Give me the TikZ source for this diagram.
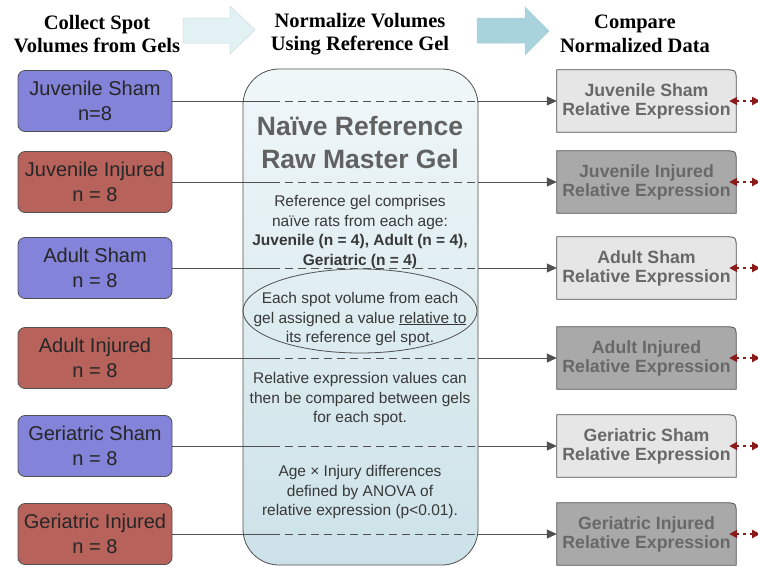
\documentclass[tikz,border=0pt]{standalone}
\usepackage{fontspec}
\setmainfont{Liberation Sans}
\newfontfamily\hdrfont{Liberation Serif}
\usetikzlibrary{arrows.meta,shapes.geometric,calc}
\definecolor{shamblue}{HTML}{8383D9}
\definecolor{injred}{HTML}{B8625C}
\definecolor{edgegray}{HTML}{505050}
\definecolor{lightrel}{HTML}{E6E6E6}
\definecolor{darkrel}{HTML}{A9A9A9}
\definecolor{reltext}{HTML}{686868}
\definecolor{darkred}{HTML}{8B1A1A}
\definecolor{arrowA}{HTML}{E2F1F3}
\definecolor{arrowB}{HTML}{A9D3DC}
\definecolor{geltop}{HTML}{F0F7F9}
\definecolor{gelbot}{HTML}{CCE2E8}
\tikzset{
  hdr/.style={align=center, font=\hdrfont\bfseries\fontsize{20.5}{23.5}\selectfont},
  lbox/.style={draw=edgegray, line width=0.8pt, rounded corners=7pt, minimum width=154pt, minimum height=61pt, align=center, inner sep=0pt, text=black!85, font=\fontsize{20}{25}\selectfont},
  rtext/.style={minimum width=179pt, minimum height=62pt, align=center, inner sep=0pt, text=reltext, font=\bfseries\fontsize{17.7}{19}\selectfont},
  gtext/.style={align=center, text=black!78, font=\fontsize{15.5}{19.5}\selectfont},
  conn/.style={draw=edgegray, line width=0.8pt},
  dconn/.style={conn, dash pattern=on 8pt off 5pt},
  aconn/.style={conn, -{Triangle[length=10pt,width=9pt]}, shorten >=0pt},
  redarr/.style={draw=darkred, line width=1.8pt, dash pattern=on 2.5pt off 4pt, {Triangle[length=8pt,width=8pt]}-{Triangle[length=8pt,width=8pt]}},
  blockarrow/.style={line width=0.5pt}
}
\newcommand\relbox[4]{%
  \node[rtext] (#1) at (646.5,#2) {};
  \filldraw[fill=#3, draw=edgegray, line width=0.8pt]
    (#1.south west) -- (#1.north west) -- ([xshift=-11pt]#1.north east)
    .. controls (#1.north east) .. ([yshift=-11pt]#1.north east) -- (#1.south east) -- cycle;
  \node[rtext] at (#1.center) {#4};
}
\begin{document}
\begin{tikzpicture}[x=1pt,y=-1pt]
\useasboundingbox (0,0) rectangle (758,566);
\fill[white] (0,0) rectangle (758,566);

% headers
\node[hdr] (h1) at (97,34) {Collect Spot\\Volumes from Gels};
\node[hdr] (h2) at (360,34) {Normalize Volumes\\Using Reference Gel};
\node[hdr] (h3) at (635,34) {Compare\\Normalized Data};

% block arrows
\filldraw[blockarrow, fill=arrowA, draw=arrowA!85!black!60!arrowA]
  (183,18) -- (230,18) -- (230,6) -- (255,30) -- (230,54) -- (230,43) -- (183,43) -- cycle;
\filldraw[blockarrow, fill=arrowB, draw=arrowB]
  (477,18) -- (525,18) -- (525,7) -- (549,31) -- (525,55) -- (525,43) -- (477,43) -- cycle;

% reference gel
\node[draw=edgegray, line width=0.8pt, rounded corners=36pt, minimum width=235pt, minimum height=496pt,
      top color=geltop, bottom color=gelbot, inner sep=0pt] (gel) at (360.5,317) {};

\coordinate (dA) at (272,0);
\coordinate (dB) at (478,0);

% left boxes
\node[lbox, fill=shamblue] (l1) at (95,101) {Juvenile Sham\\n=8};
\node[lbox, fill=injred]   (l2) at (95,182) {Juvenile Injured\\n = 8};
\node[lbox, fill=shamblue] (l3) at (95,268) {Adult Sham\\n = 8};
\node[lbox, fill=injred]   (l4) at (95,358) {Adult Injured\\n = 8};
\node[lbox, fill=shamblue] (l5) at (95,446) {Geriatric Sham\\n = 8};
\node[lbox, fill=injred]   (l6) at (95,534) {Geriatric Injured\\n = 8};

% right boxes
\relbox{r1}{101}{lightrel}{Juvenile Sham\\Relative Expression}
\relbox{r2}{182}{darkrel}{Juvenile Injured\\Relative Expression}
\relbox{r3}{268}{lightrel}{Adult Sham\\Relative Expression}
\relbox{r4}{358}{darkrel}{Adult Injured\\Relative Expression}
\relbox{r5}{446}{lightrel}{Geriatric Sham\\Relative Expression}
\relbox{r6}{534}{darkrel}{Geriatric Injured\\Relative Expression}

% connectors
\foreach \i in {1,...,6}{
  \draw[conn]  (l\i.east) -- (l\i.east -| dA);
  \draw[dconn] (l\i.east -| dA) -- (l\i.east -| dB);
  \draw[aconn] (l\i.east -| dB) -- (r\i.west);
  \coordinate (e\i) at ([xshift=24pt]r\i.east);
  \draw[redarr] ([xshift=-7pt]r\i.east) -- (e\i);
}

% gel texts
\node[align=center, text=black!62, font=\bfseries\fontsize{26.5}{33}\selectfont] (gt) at (360,143) {Naïve Reference\\Raw Master Gel};
\node[gtext] (g1) at (360,232) {Reference gel comprises\\naïve rats from each age:\\\textbf{Juvenile (n = 4), Adult (n = 4),}\\\textbf{Geriatric (n = 4)}};
\node[draw=edgegray, line width=0.8pt, ellipse, minimum width=234pt, minimum height=84pt, inner sep=0pt] (ell) at (360,311) {};
\node[gtext] (g2) at (360,319) {Each spot volume from each\\gel assigned a value \underline{relative to}\\its reference gel spot.};
\node[gtext] (g3) at (360,399) {Relative expression values can\\then be compared between gels\\for each spot.};
\node[gtext] (g4) at (360,492) {Age × Injury differences\\defined by ANOVA of\\relative expression (p<0.01).};
\end{tikzpicture}
\end{document}
